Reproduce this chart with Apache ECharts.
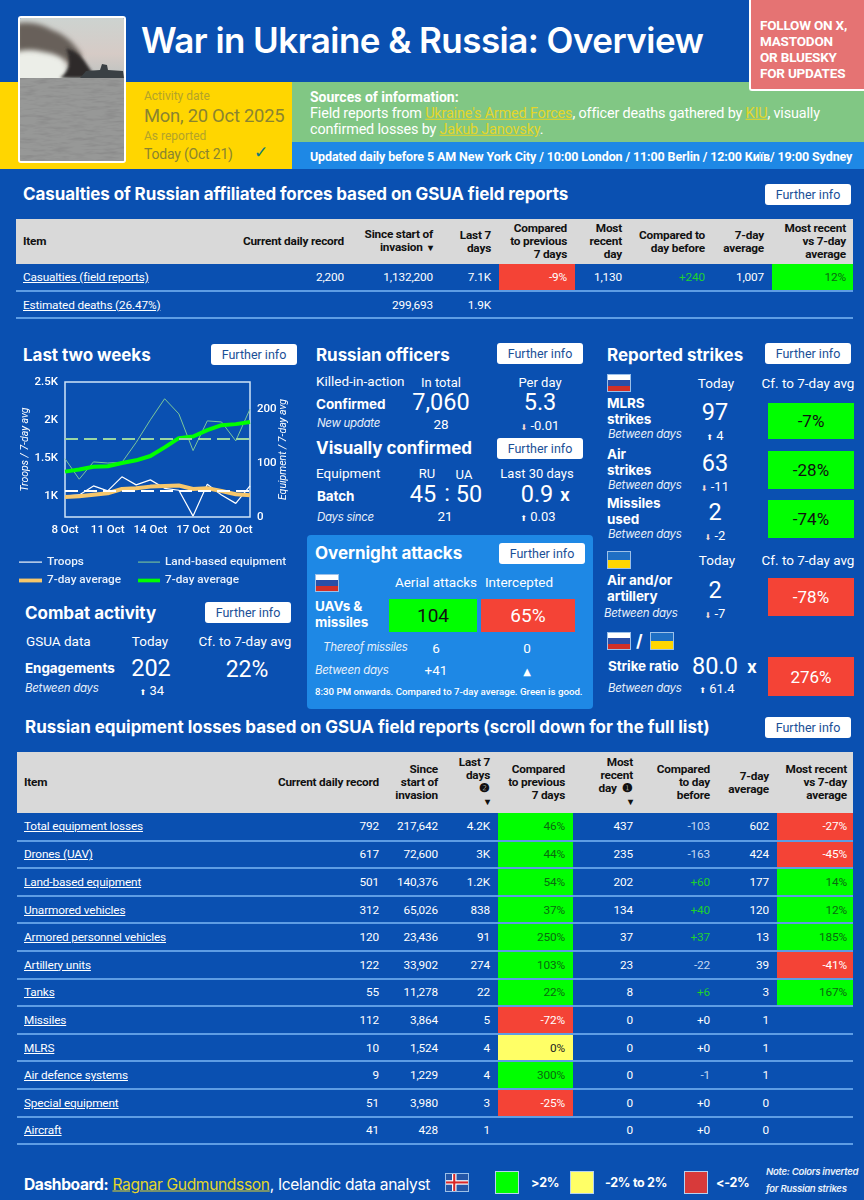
<!DOCTYPE html>
<html>
<head>
<meta charset="utf-8">
<title>War in Ukraine & Russia: Overview</title>
<script src="https://cdn.jsdelivr.net/npm/echarts@6/dist/echarts.min.js"></script>
<style>
html,body{margin:0;padding:0;width:864px;height:1200px;overflow:hidden;background:#0a50b1;color:#fff;font-family:Roboto,sans-serif}
#page{position:absolute;left:0;top:0;width:864px;height:1200px;overflow:hidden}
.box{position:absolute}
.t{position:absolute;white-space:nowrap;line-height:1;transform:translateY(-50%)}
.c{transform:translate(-50%,-50%)}
.h{font-family:Inter,sans-serif;font-weight:700;font-size:17px;letter-spacing:-.05px}
.h2{font-family:Inter,sans-serif;font-weight:700;font-size:17px;letter-spacing:-.1px}
.b{font-family:Inter,sans-serif;font-weight:700;font-size:13.5px;letter-spacing:-.1px}
.i{font-family:Inter,sans-serif;font-style:italic;font-size:11.5px;letter-spacing:-.3px;color:#e6effa}
.lab{font-size:13.5px}
.big{font-size:23.5px}
.sm{font-size:13px}
.ar{font-family:"DejaVu Sans";font-size:8px;margin-right:3px}
.btn{position:absolute;width:86px;height:21px;background:#fff;border-radius:3px;color:#1b4f96;font-size:12.5px;text-align:center;line-height:21px}
.cell{position:absolute;display:flex;align-items:center;justify-content:center;font-size:17px}
.flag{position:absolute;width:22px;height:16px;border:1px solid #9cc0e8}
table{position:absolute;border-collapse:collapse;table-layout:fixed;font-size:11.8px;letter-spacing:-.15px}
th{background:#d9d9d9;color:#111;font-weight:700;font-size:11.8px;line-height:12.8px;text-align:right;letter-spacing:-.2px;padding:0}
td{text-align:right;padding:0;border-bottom:2px solid #5e9de4;color:#fff}
th:first-child,td:first-child{text-align:left}
td a{color:#fff;text-decoration:underline}
a.y{color:#e4d62a;text-decoration:underline}
</style>
</head>
<body>
<div id="page"></div>
<div id="main" class="box" style="left:0;top:370px;width:300px;height:232px"></div>
<script>
// chart data
var days = ['8 Oct','9 Oct','10 Oct','11 Oct','12 Oct','13 Oct','14 Oct','15 Oct','16 Oct','17 Oct','18 Oct','19 Oct','20 Oct','21 Oct'];
var troops = [995,1009,1128,1062,1248,1142,1208,1097,1071,730,1150,1009,898,1128];
var troopsAvg = [982,991,1013,1031,1088,1097,1119,1128,1133,1088,1097,1062,1018,1004];
var land = [108,70,102,100,101,138,180,219,191,123,178,176,141,200];
var landAvg = [84,88,93,94,100,105,113,129,146,149,161,170,172,176];
var troopsRef = 1062;
var landRef = 144;
var troopTicks = [1000,1500,2000,2500];
var landTicks = [0,100,200];

// casualties table
var casHead = ['Item','Current daily record','Since start of<br>invasion &nbsp;<small>▾</small>','Last 7<br>days','Compared<br>to previous<br>7 days','Most<br>recent<br>day','Compared to<br>day before','7-day<br>average','Most recent<br>vs 7-day<br>average'];
var casItems = ['Casualties (field reports)','Estimated deaths (26.47%)'];
var casRecord = ['2,200',''];
var casTotal = ['1,132,200','299,693'];
var casWeek = ['7.1K','1.9K'];
var casPrev = ['-9%',''];
var casRecent = ['1,130',''];
var casDay = ['+240',''];
var casAvg = ['1,007',''];
var casVsAvg = ['12%',''];

// equipment table
var eqHead = ['Item','Current daily record','Since<br>start of<br>invasion','Last 7<br>days<br>❷<br><small>▾</small>','Compared<br>to previous<br>7 days','Most<br>recent<br>day &nbsp;❶<br><small>▾</small>','Compared<br>to day<br>before','7-day<br>average','Most recent<br>vs 7-day<br>average'];
var eqItems = ['Total equipment losses','Drones (UAV)','Land-based equipment','Unarmored vehicles','Armored personnel vehicles','Artillery units','Tanks','Missiles','MLRS','Air defence systems','Special equipment','Aircraft'];
var eqRecord = ['792','617','501','312','120','122','55','112','10','9','51','41'];
var eqTotal = ['217,642','72,600','140,376','65,026','23,436','33,902','11,278','3,864','1,524','1,229','3,980','428'];
var eqWeek = ['4.2K','3K','1.2K','838','91','274','22','5','4','4','3','1'];
var eqPrev = ['46%','44%','54%','37%','250%','103%','22%','-72%','0%','300%','-25%',''];
var eqRecent = ['437','235','202','134','37','23','8','0','0','0','0','0'];
var eqDay = ['-103','-163','+60','+40','+37','-22','+6','+0','+0','-1','+0','+0'];
var eqAvg = ['602','424','177','120','13','39','3','1','1','1','0','0'];
var eqVsAvg = ['-27%','-45%','14%','12%','185%','-41%','167%','','','','',''];

var GREEN = '#00ff00', RED = '#f44336', YELLOW = '#ffff66', BLUE = '#1e88e5';
var page = document.getElementById('page');

function add(html){
    page.insertAdjacentHTML('beforeend', html);
}
// left aligned text, y is the vertical middle
function txt(x, y, s, cls, style){
    add('<div class="t '+(cls||'')+'" style="left:'+x+'px;top:'+y+'px;'+(style||'')+'">'+s+'</div>');
}
// centered text
function mid(x, y, s, cls, style){
    txt(x, y, s, 'c '+(cls||''), style);
}
function rect(x, y, w, h, color, style){
    add('<div class="box" style="left:'+x+'px;top:'+y+'px;width:'+w+'px;height:'+h+'px;background:'+color+';'+(style||'')+'"></div>');
}
function btn(x, y){
    add('<div class="btn" style="left:'+x+'px;top:'+y+'px">Further info</div>');
}
function cell(x, y, w, h, s, bg, color, size){
    add('<div class="cell" style="left:'+x+'px;top:'+y+'px;width:'+w+'px;height:'+h+'px;background:'+bg+';color:'+color+';font-size:'+(size||17)+'px">'+s+'</div>');
}
function flag(x, y, c1, c2, c3){
    var bg = c3 ? 'linear-gradient('+c1+' 33%,'+c2+' 33%,'+c2+' 66%,'+c3+' 66%)' : 'linear-gradient('+c1+' 50%,'+c2+' 50%)';
    add('<div class="flag" style="left:'+x+'px;top:'+y+'px;background:'+bg+'"></div>');
}
function flagRU(x, y){ flag(x, y, '#ffffff', '#2a4fa8', '#d22f27'); }
function flagUA(x, y){ flag(x, y, '#1f6fc4', '#ffd600'); }
function delta(x, y, up, s){
    mid(x, y, '<span class="ar" style="color:'+(up?'#fff':'#f0d9d6')+'">'+(up?'⬆':'⬇')+'</span>'+s, 'sm');
}
function pctColor(s){
    var v = parseFloat(s);
    if (s === '') return '';
    return v > 2 ? GREEN : (v < -2 ? RED : YELLOW);
}
function pctInk(s){
    var v = parseFloat(s);
    return v > 2 ? '#0b6a10' : (v < -2 ? '#fff' : '#222');
}
function dayInk(s){
    if (s.charAt(0) === '+' && s !== '+0') return '#1fd02f';
    return s === '+0' ? '#fff' : '#c4d8f3';
}

// builds a table from the named columns
function table(x, y, edges, pads, headH, rowH, head, cols){
    var w = edges[edges.length-1] - edges[0];
    var html = '<table style="left:'+x+'px;top:'+y+'px;width:'+w+'px"><colgroup>';
    for (var i = 1; i < edges.length; i++) html += '<col style="width:'+(edges[i]-edges[i-1])+'px">';
    html += '</colgroup><tr style="height:'+headH+'px">';
    for (i = 0; i < head.length; i++) {
        html += '<th style="'+(i===0?'padding-left:7px':'padding-right:'+pads[i]+'px')+'">'+head[i]+'</th>';
    }
    html += '</tr>';
    for (var r = 0; r < cols[0].length; r++) {
        html += '<tr style="height:'+rowH+'px">';
        for (var c = 0; c < cols.length; c++) {
            var v = cols[c][r], st = '';
            if (c === 0) { html += '<td style="padding-left:7px"><a>'+v+'</a></td>'; continue; }
            st = 'padding-right:'+pads[c]+'px;';
            if ((c === 4 || c === 8) && v !== '') st += 'background:'+pctColor(v)+';color:'+pctInk(v)+';';
            if (c === 6 && v !== '') st += 'color:'+dayInk(v)+';';
            html += '<td style="'+st+'">'+v+'</td>';
        }
        html += '</tr>';
    }
    add(html + '</table>');
}

// ---- header
rect(0, 82, 292, 87, '#ffd600');
rect(292, 82, 572, 60, '#81c784');
rect(292, 142, 572, 27, BLUE);
// the photo of the burning ship, only a rough impression
add('<svg class="box" style="left:18px;top:16px;border:2px solid #fff;border-radius:3px" width="104" height="143" viewBox="0 0 104 143">'
  + '<defs><filter id="bl"><feGaussianBlur stdDeviation="2.5"/></filter><filter id="bl2"><feGaussianBlur stdDeviation="1.5"/></filter>'
  + '<filter id="sea" x="0" y="0" width="100%" height="100%"><feTurbulence type="fractalNoise" baseFrequency="0.06 0.35" numOctaves="3"/><feColorMatrix values="0 0 0 0 .25  0 0 0 0 .25  0 0 0 0 .25  2 0 0 0 -.85"/></filter>'
  + '<linearGradient id="air" x1="0" y1="0" x2="0" y2="1"><stop offset="0" stop-color="#cdd3d0"/><stop offset=".6" stop-color="#d6cbc6"/><stop offset="1" stop-color="#bcc2c0"/></linearGradient>'
  + '<clipPath id="sky"><rect width="104" height="60"/></clipPath></defs>'
  + '<rect width="104" height="60" fill="url(#air)"/><rect y="60" width="104" height="83" fill="#979897"/><rect y="60" width="104" height="83" filter="url(#sea)"/>'
  + '<g clip-path="url(#sky)">'
  + '<path d="M-6 26 Q20 22 42 36 L50 66 L-6 66Z" fill="#eceee8" filter="url(#bl)"/>'
  + '<path d="M-4 6 Q14 2 32 12 Q50 18 62 38 L54 50 Q42 36 24 34 Q8 30 -4 34Z" fill="#68615a" filter="url(#bl)"/>'
  + '<path d="M46 30 Q60 34 68 48 L76 60 L40 60 Q54 50 46 30Z" fill="#2e2c2a" filter="url(#bl2)"/>'
  + '<path d="M60 60 L66 53 L80 52 L82 46 L87 47 L88 52 L103 53 L104 60Z" fill="#3a4044"/>'
  + '</g></svg>');
txt(141, 40, 'War in Ukraine &amp; Russia: Overview', '', 'font:600 35px Inter,sans-serif;letter-spacing:-.55px');
rect(749, -3, 113, 92, '#e57373', 'border:2px solid #fff;border-right:0;border-top:0;border-radius:0 0 0 3px');
var followLines = ['FOLLOW ON X,','MASTODON','OR BLUESKY','FOR UPDATES'];
for (var f = 0; f < followLines.length; f++) {
    txt(760, 25 + f * 16, followLines[f], '', 'font:700 13.5px Roboto;letter-spacing:-.2px');
}
var ink = '#8a8430', ink2 = '#b3a32a';
txt(144, 96, 'Activity date', '', 'font-size:12px;color:'+ink2);
txt(144, 116, 'Mon, 20 Oct 2025', '', 'font-size:18.4px;letter-spacing:-.25px;color:'+ink);
txt(144, 136, 'As reported', '', 'font-size:12px;color:'+ink2);
txt(144, 154, 'Today (Oct 21)', '', 'font-size:14px;letter-spacing:-.2px;color:'+ink);
txt(254, 152, '✓', '', "font:17px 'DejaVu Sans';color:#0f7a7a");
txt(310, 97, 'Sources of information:', '', 'font:700 14px Roboto');
txt(310, 114, 'Field reports from <a class="y">Ukraine\'s Armed Forces</a>, officer deaths gathered by <a class="y">KIU</a>, visually', '', 'font-size:14.4px;letter-spacing:-.15px');
txt(310, 130, 'confirmed losses by <a class="y">Jakub Janovsky</a>.', '', 'font-size:14.4px;letter-spacing:-.15px');
txt(310, 156, 'Updated daily before 5 AM New York City / 10:00 London / 11:00 Berlin / 12:00 Київ/ 19:00 Sydney', '', 'font:700 12.5px Roboto;letter-spacing:-.12px');

// ---- casualties
txt(23, 194, 'Casualties of Russian affiliated forces based on GSUA field reports', 'h2');
btn(765, 184);
table(16, 219, [16,220,350,439,499,575,628,711,772,853], [0,6,6,8,8,6,6,8,7], 45, 27,
    casHead, [casItems,casRecord,casTotal,casWeek,casPrev,casRecent,casDay,casAvg,casVsAvg]);

// ---- last two weeks, the chart itself goes in #main
txt(23, 355, 'Last two weeks', 'h');
btn(211, 344);

// ---- combat activity
txt(25, 613, 'Combat activity', 'h');
btn(205, 602);
txt(26, 642, 'GSUA data', 'lab');
mid(150, 642, 'Today', 'lab');
mid(245, 642, 'Cf. to 7-day avg', 'lab');
txt(25, 669, 'Engagements', 'b');
mid(151, 669, '202', 'big');
mid(247, 669, '22%', 'big', 'font-size:23px');
txt(25, 689, 'Between days', 'i');
delta(152, 690, true, '34');

// ---- officers
txt(316, 355, 'Russian officers', 'h');
btn(497, 343);
txt(316, 382, 'Killed-in-action', 'lab');
mid(441, 382, 'In total', 'sm');
mid(540, 382, 'Per day', 'sm');
txt(316, 405, 'Confirmed', 'b');
mid(441, 403, '7,060', 'big');
mid(540, 403, '5.3', 'big');
txt(317, 424, 'New update', 'i');
mid(441, 425, '28', 'lab');
delta(540, 425, false, '-0.01');

// ---- visually confirmed
txt(316, 448, 'Visually confirmed', 'h');
btn(497, 438);
txt(316, 474, 'Equipment', 'lab');
mid(427, 473, 'RU', 'sm');
mid(464, 474, 'UA', 'sm');
mid(537, 473, 'Last 30 days', 'sm');
txt(317, 497, 'Batch', 'b');
mid(423, 495, '45', 'big');
mid(447, 494, ':', 'big');
mid(469, 495, '50', 'big');
mid(537, 495, '0.9', 'big');
mid(565, 495, 'x', 'b', 'font-size:17px');
txt(317, 518, 'Days since', 'i');
mid(445, 517, '21', 'lab');
delta(538, 516, true, '0.03');

// ---- overnight attacks
rect(307, 535, 286, 174, BLUE, 'border-radius:4px');
txt(315, 553, 'Overnight attacks', 'h');
btn(499, 543);
flagRU(315, 574);
mid(436, 583, 'Aerial attacks', 'lab');
mid(519, 583, 'Intercepted', 'lab');
txt(315, 607, 'UAVs &amp;', 'b');
txt(315, 623, 'missiles', 'b');
cell(389, 599, 88, 33, '104', GREEN, '#111', 19);
cell(481, 599, 94, 33, '65%', RED, '#fff', 19);
txt(323, 648, 'Thereof missiles', 'i');
mid(436, 649, '6', 'lab');
mid(527, 649, '0', 'lab');
txt(315, 671, 'Between days', 'i');
mid(436, 671, '+41', 'lab');
mid(527, 671, '▲', '', "font:10px 'DejaVu Sans'");
txt(315, 692, '8:30 PM onwards. Compared to 7-day average. Green is good.', '', 'font-size:9.7px;font-weight:500');

// ---- reported strikes
txt(607, 355, 'Reported strikes', 'h');
btn(765, 343);
flagRU(607, 374);
mid(716, 384, 'Today', 'lab');
mid(808, 384, 'Cf. to 7-day avg', 'lab');
var strikeNames = [['MLRS','strikes'],['Air','strikes'],['Missiles','used']];
var strikeToday = ['97','63','2'];
var strikeUp = [true,false,false];
var strikeDelta = ['4','-11','-2'];
var strikePct = ['-7%','-28%','-74%'];
var strikeRow = [404,455,504];
var strikeCell = [[403,36],[451,38],[500,38]];
for (var s = 0; s < strikeNames.length; s++) {
    var y0 = strikeRow[s];
    txt(607, y0, strikeNames[s][0], 'b');
    txt(607, y0+16, strikeNames[s][1], 'b');
    txt(608, y0+31, 'Between days', 'i');
    mid(715, y0+9, strikeToday[s], 'big');
    delta(715, y0+31, strikeUp[s], strikeDelta[s]);
    cell(768, strikeCell[s][0], 86, strikeCell[s][1], strikePct[s], GREEN, '#111');
}
flagUA(607, 551);
mid(717, 561, 'Today', 'lab');
mid(808, 561, 'Cf. to 7-day avg', 'lab');
txt(607, 581, 'Air and/or', 'b');
txt(607, 597, 'artillery', 'b');
txt(604, 614, 'Between days', 'i');
mid(715, 591, '2', 'big');
delta(715, 613, false, '-7');
cell(768, 578, 86, 38, '-78%', RED, '#fff');
flagRU(607, 632);
txt(636, 641, '/', 'b', 'font-size:17px');
flagUA(650, 632);
txt(608, 667, 'Strike ratio', 'b');
mid(715, 667, '80.0', 'big');
mid(752, 667, 'x', 'b', 'font-size:17px');
txt(608, 689, 'Between days', 'i');
delta(717, 688, true, '61.4');
cell(768, 657, 86, 39, '276%', RED, '#fff');

// ---- equipment losses
txt(25, 727, 'Russian equipment losses based on GSUA field reports (scroll down for the full list)', 'h2', 'letter-spacing:-.02px');
btn(765, 717);
table(17, 752, [17,260,385,444,498,573,640,716,777,853], [0,6,6,8,8,7,6,8,6], 61, 27.6,
    eqHead, [eqItems,eqRecord,eqTotal,eqWeek,eqPrev,eqRecent,eqDay,eqAvg,eqVsAvg]);

// ---- footer
txt(24, 1184, '<b style="font-family:Inter;letter-spacing:-.4px">Dashboard:</b> <a class="y">Ragnar Gudmundsson</a>, Icelandic data analyst', '', 'font:15.6px Inter,sans-serif;letter-spacing:-.35px');
add('<svg class="box" style="left:445px;top:1173px;border:1px solid #9cc0e8" width="22" height="17" viewBox="0 0 22 17"><rect width="22" height="17" fill="#2457a8"/><rect x="6" width="4.5" height="17" fill="#fff"/><rect y="6.2" width="22" height="4.5" fill="#fff"/><rect x="7.2" width="2.1" height="17" fill="#d72828"/><rect y="7.4" width="22" height="2.1" fill="#d72828"/></svg>');
var swatchX = [495,570,684];
var swatchColor = [GREEN,YELLOW,'#d83a3a'];
var swatchLabel = ['&gt;2%','-2% to 2%','&lt;-2%'];
var swatchLabelX = [531,605,716];
for (var k = 0; k < swatchX.length; k++) {
    rect(swatchX[k], 1171, 22, 21, swatchColor[k], 'border:1px solid #b7d3ef');
    txt(swatchLabelX[k], 1183, swatchLabel[k], 'b', 'font-size:12.5px;letter-spacing:-.3px');
}
txt(766, 1172, 'Note: Colors inverted', 'i', 'font-size:9.6px;font-weight:600');
txt(766, 1189, 'for Russian strikes', 'i', 'font-size:9.6px;font-weight:600');

// ---- the chart
var main_chart = echarts.init(document.getElementById('main'));
function kLabel(v){
    return (v / 1000) + 'K';
}
function refLine(value, color){
    return {
        silent: true,
        symbol: 'none',
        label: { show: false },
        lineStyle: { color: color, width: 2, type: [13, 6], opacity: 1 },
        data: [{ yAxis: value }]
    };
}
// the first two segments only stretch the icon's box to 24x10
var thinIcon = 'path://M0,0H0M0,10H0M0,4.5H24V5.7H0Z';
var thickIcon = 'path://M0,0H0M0,10H0M0,3H24V7H0Z';
var legendText = { color: '#e8f0fb', fontSize: 11.8, fontWeight: 500, fontFamily: 'Roboto' };
var axisText = { color: '#fff', fontSize: 11.5, fontWeight: 500, fontFamily: 'Roboto' };
var nameText = { color: '#fff', fontSize: 10.5, fontStyle: 'italic', fontFamily: 'Roboto' };
var option = {
    animation: false,
    textStyle: { fontFamily: 'Roboto' },
    grid: { left: 65, top: 12, width: 185, height: 135, show: true, outerBoundsMode: 'none', backgroundColor: 'transparent', borderColor: '#cfe3f7', borderWidth: 1.5 },
    legend: [
        { left: 19, top: 186, padding: 0, orient: 'vertical', itemGap: 6.5, itemWidth: 23, itemHeight: 12, textStyle: legendText,
          data: [{ name: 'Troops', icon: thinIcon }, { name: '7-day average', icon: thickIcon }] },
        { left: 138, top: 186, padding: 0, orient: 'vertical', itemGap: 6.5, itemWidth: 22, itemHeight: 12, textStyle: legendText,
          data: [{ name: 'Land-based equipment', icon: thinIcon }, { name: '7-day average ', icon: thickIcon }] }
    ],
    xAxis: {
        type: 'category',
        boundaryGap: false,
        data: days,
        axisLine: { show: false },
        axisTick: { show: false },
        axisLabel: Object.assign({ interval: 2, margin: 7 }, axisText)
    },
    yAxis: [
        {
            type: 'value', min: 718, max: 2500, splitLine: { show: false }, axisLine: { show: false }, axisTick: { show: false },
            name: 'Troops / 7-day avg', nameLocation: 'middle', nameRotate: 90, nameGap: 34, nameMoveOverlap: false,
            nameTextStyle: nameText,
            axisLabel: Object.assign({ margin: 7, customValues: troopTicks, formatter: kLabel }, axisText)
        },
        {
            type: 'value', min: 0, max: 250, splitLine: { show: false }, axisLine: { show: false }, axisTick: { show: false },
            name: 'Equipment / 7-day avg', nameLocation: 'middle', nameRotate: 90, nameGap: 28, nameMoveOverlap: false,
            nameTextStyle: nameText,
            axisLabel: Object.assign({ margin: 7, customValues: landTicks }, axisText)
        }
    ],
    series: [
        { name: 'Land-based equipment', type: 'line', yAxisIndex: 1, data: land, symbol: 'none', lineStyle: { color: '#7cc79a', width: 1 }, itemStyle: { color: '#7cc79a' }, markLine: refLine(landRef, '#9ad6a2') },
        { name: '7-day average ', type: 'line', yAxisIndex: 1, data: landAvg, symbol: 'none', lineStyle: { color: '#00ff00', width: 4 }, itemStyle: { color: '#00ff00' } },
        { name: 'Troops', type: 'line', yAxisIndex: 0, data: troops, symbol: 'none', lineStyle: { color: '#fff', width: 1.2 }, itemStyle: { color: '#fff' } },
        { name: '7-day average', type: 'line', yAxisIndex: 0, data: troopsAvg, symbol: 'none', lineStyle: { color: '#f7c76b', width: 4 }, itemStyle: { color: '#f7c76b' }, markLine: refLine(troopsRef, '#fff') }
    ]
};
main_chart.setOption(option);
</script>
</body>
</html>
